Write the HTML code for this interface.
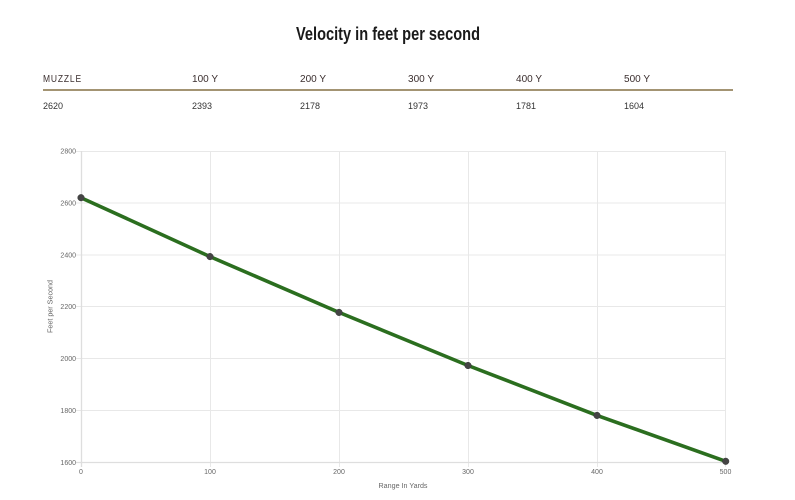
<!DOCTYPE html>
<html><head><meta charset="utf-8"><style>
html,body{margin:0;padding:0;background:#fff;width:795px;height:500px;overflow:hidden}
svg{display:block}
text{font-family:"Liberation Sans",sans-serif}
</style></head><body>
<svg width="795" height="500" viewBox="0 0 795 500" xmlns="http://www.w3.org/2000/svg">
<rect width="795" height="500" fill="#fff"/>
<text x="388" y="40" text-anchor="middle" font-family="Liberation Sans Narrow, Liberation Sans, sans-serif" font-weight="bold" font-size="18.5" fill="#1a1a1a" textLength="184" lengthAdjust="spacingAndGlyphs">Velocity in feet per second</text>
<g font-size="10" fill="#3b2f2f">
<text x="43" y="82" textLength="39" lengthAdjust="spacingAndGlyphs" letter-spacing="1">MUZZLE</text>
<text x="192" y="82" textLength="26" lengthAdjust="spacingAndGlyphs">100 Y</text>
<text x="300" y="82" textLength="26" lengthAdjust="spacingAndGlyphs">200 Y</text>
<text x="408" y="82" textLength="26" lengthAdjust="spacingAndGlyphs">300 Y</text>
<text x="516" y="82" textLength="26" lengthAdjust="spacingAndGlyphs">400 Y</text>
<text x="624" y="82" textLength="26" lengthAdjust="spacingAndGlyphs">500 Y</text>
</g>
<rect x="43" y="89" width="690" height="2" fill="#a39473"/>
<g font-size="9" fill="#333">
<text x="43" y="109">2620</text>
<text x="192" y="109">2393</text>
<text x="300" y="109">2178</text>
<text x="408" y="109">1973</text>
<text x="516" y="109">1781</text>
<text x="624" y="109">1604</text>
</g>
<g stroke="#e8e8e8" stroke-width="1">
<line x1="76" y1="151.5" x2="726" y2="151.5"/>
<line x1="76" y1="203" x2="726" y2="203"/>
<line x1="76" y1="255" x2="726" y2="255"/>
<line x1="76" y1="306.5" x2="726" y2="306.5"/>
<line x1="76" y1="358.5" x2="726" y2="358.5"/>
<line x1="76" y1="410.5" x2="726" y2="410.5"/>
<line x1="210.5" y1="151" x2="210.5" y2="467"/>
<line x1="339.5" y1="151" x2="339.5" y2="467"/>
<line x1="468.5" y1="151" x2="468.5" y2="467"/>
<line x1="597.5" y1="151" x2="597.5" y2="467"/>
<line x1="725.5" y1="151" x2="725.5" y2="467"/>
</g>
<g stroke="#dedede" stroke-width="1.3">
<line x1="81.5" y1="151" x2="81.5" y2="467"/>
<line x1="76" y1="462.5" x2="726" y2="462.5"/>
</g>
<g font-size="7" fill="#666" text-anchor="end">
<text x="76" y="153.5">2800</text>
<text x="76" y="205.5">2600</text>
<text x="76" y="257.5">2400</text>
<text x="76" y="309">2200</text>
<text x="76" y="361">2000</text>
<text x="76" y="413">1800</text>
<text x="76" y="465">1600</text>
</g>
<g font-size="7" fill="#666" text-anchor="middle">
<text x="81" y="474">0</text>
<text x="210" y="474">100</text>
<text x="339" y="474">200</text>
<text x="468" y="474">300</text>
<text x="597" y="474">400</text>
<text x="725.5" y="474">500</text>
<text x="403" y="488" textLength="49" lengthAdjust="spacingAndGlyphs">Range In Yards</text>
<text transform="translate(52.5,306.5) rotate(-90)" textLength="53" lengthAdjust="spacingAndGlyphs">Feet per Second</text>
</g>
<polyline points="81,197.7 210,256.6 339,312.4 468,365.5 597,415.4 725.7,461.3" fill="none" stroke="#2b6e1f" stroke-width="3.6" stroke-linejoin="round"/>
<g fill="#444" stroke="#3a3a3a" stroke-width="0.5">
<circle cx="81" cy="197.7" r="3.3"/>
<circle cx="210" cy="256.6" r="3.3"/>
<circle cx="339" cy="312.4" r="3.3"/>
<circle cx="468" cy="365.5" r="3.3"/>
<circle cx="597" cy="415.4" r="3.3"/>
<circle cx="725.7" cy="461.3" r="3.3"/>
</g>
</svg>
</body></html>
